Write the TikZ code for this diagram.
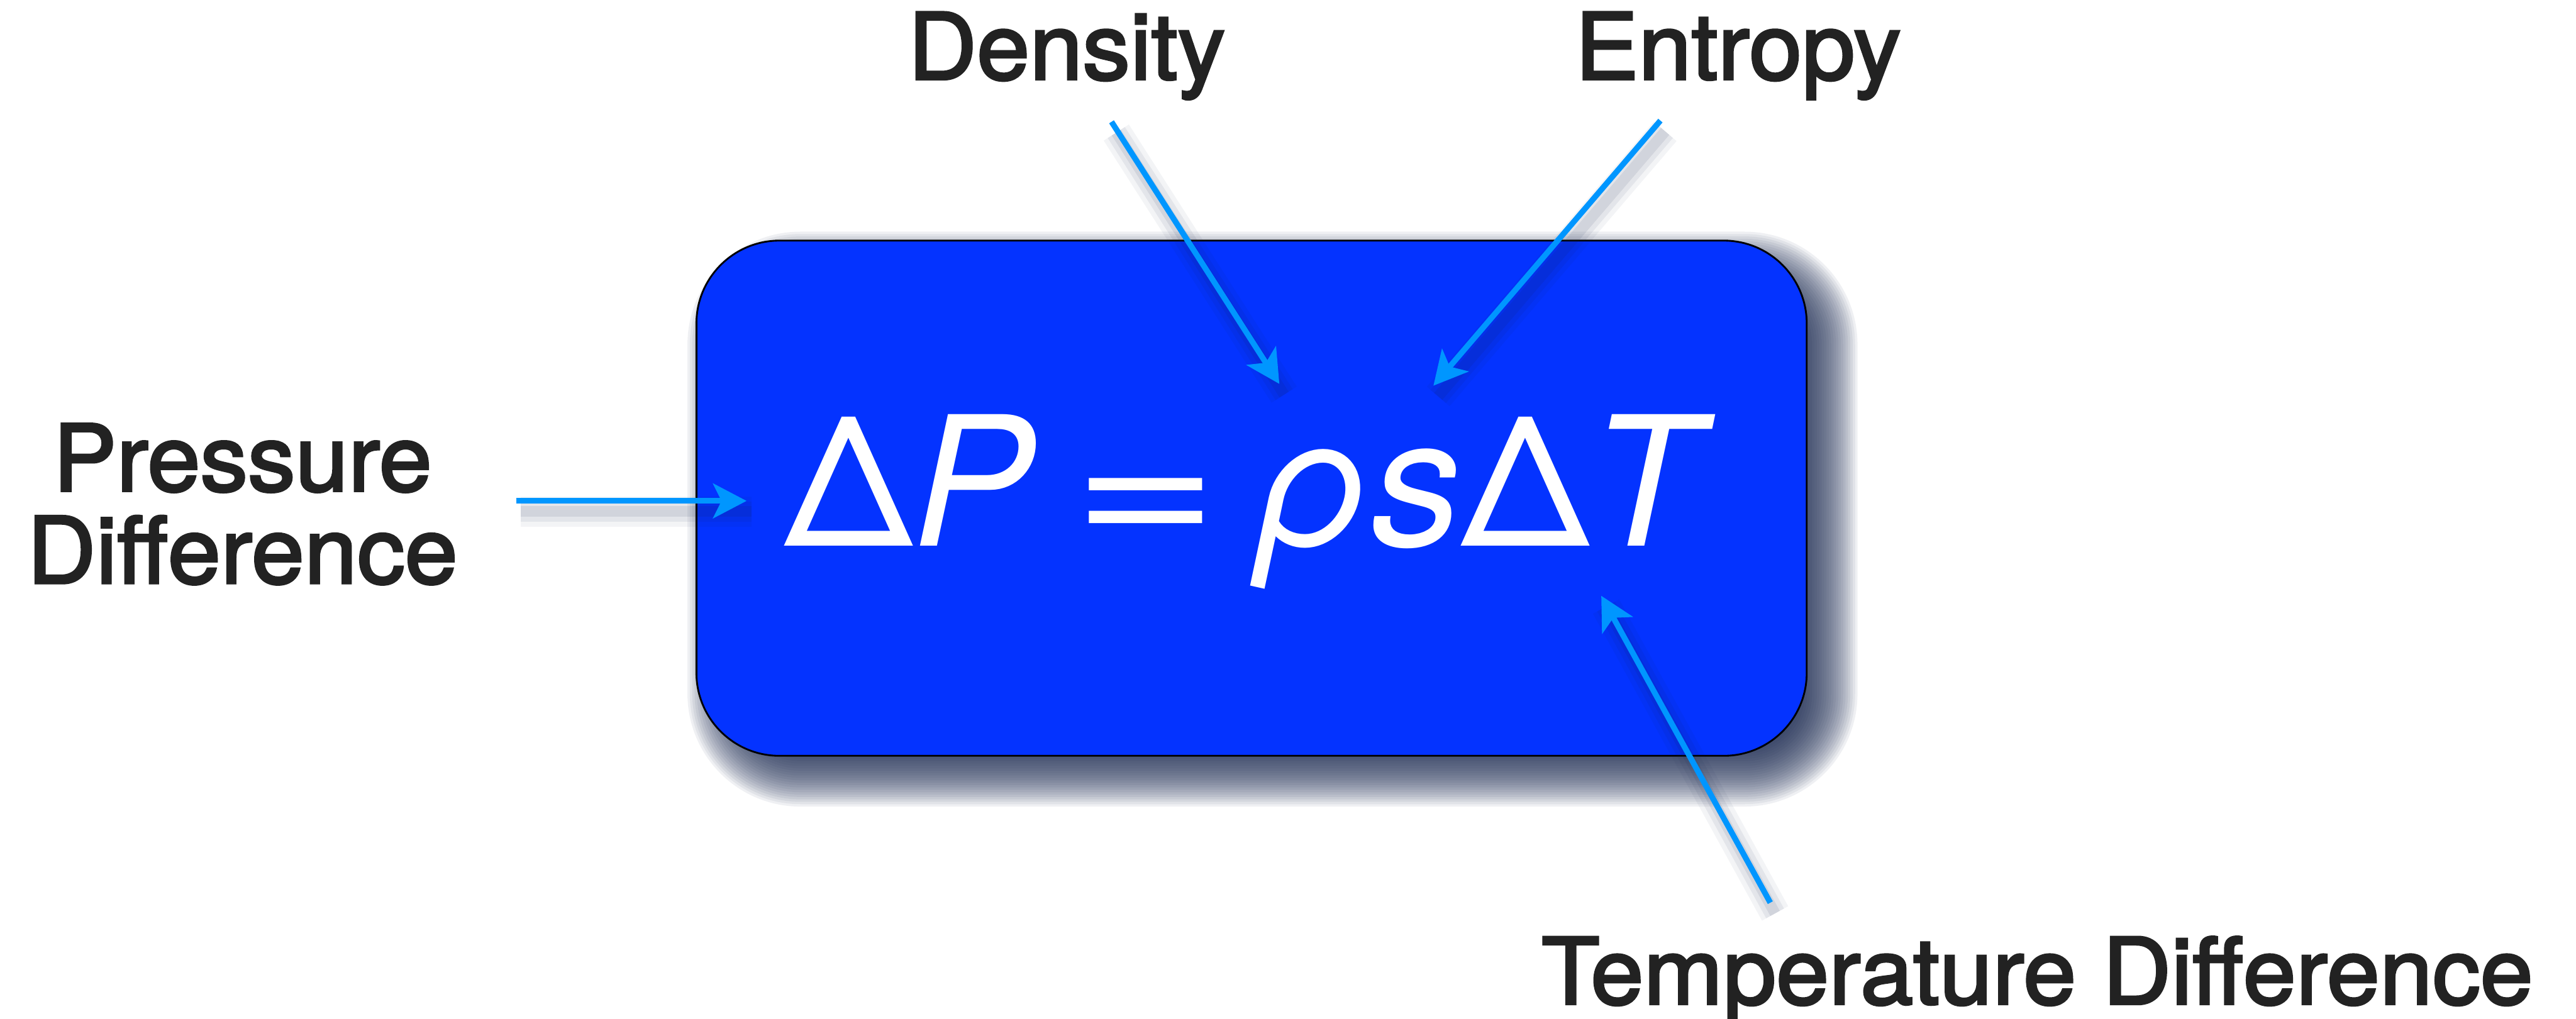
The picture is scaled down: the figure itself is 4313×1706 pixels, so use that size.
\documentclass[tikz,border=0pt]{standalone}
\usepackage{fontspec}
\setmainfont{TeX Gyre Heros}
\newfontfamily\medfont{TeX Gyre Heros}[FakeBold=2.5, FakeStretch=1.03]
\usepackage{xcolor}
\usetikzlibrary{arrows.meta,positioning}
\definecolor{eqblue}{RGB}{4,51,255}
\definecolor{arrowblue}{RGB}{0,150,255}
\definecolor{labelgray}{RGB}{34,34,34}
\definecolor{shadenavy}{RGB}{20,35,75}

\begin{document}
\begin{tikzpicture}[
    x=0.1mm, y=-0.1mm,
    varlabel/.style={text=labelgray, font=\medfont\fontsize{44}{44}\selectfont, inner sep=0pt, align=center},
    eqbox/.style={draw=black, line width=0.3mm, fill=eqblue, rounded corners=13.9mm,
        minimum width=185.9mm, minimum height=86.3mm, inner sep=0pt},
    formula/.style={text=white, font=\fontsize{86}{86}\selectfont, inner sep=0pt},
    pointer/.style={draw=arrowblue, line width=0.95mm,
        -{Stealth[length=5.6mm, width=5.8mm, inset=1.4mm]},
        preaction={draw=shadenavy, draw opacity=0.05, line width=5mm, arrows=-,
            transform canvas={shift={(8,18)}}},
        preaction={draw=shadenavy, draw opacity=0.07, line width=3.4mm, arrows=-,
            transform canvas={shift={(8,18)}}},
        preaction={draw=shadenavy, draw opacity=0.09, line width=1.8mm, arrows=-,
            transform canvas={shift={(8,18)}}}}
]
\useasboundingbox (0,0) rectangle (4313,1706);

\foreach \e in {-50,-46,...,50}
    \fill[shadenavy, opacity=0.065, rounded corners={(139+\e)*0.1mm}]
        ({1201-\e},{438-\e}) rectangle ({3060+\e},{1301+\e});
\node[eqbox] (box) at (2095.5,834.5) {};
\node[formula, anchor=base] (eq) at (2093,914)
    {Δ\textit{P}\hspace{0.2em}\scalebox{1.4}[1]{=}\hspace{0.2em}\textit{ρs}Δ\textit{T}};

\node[varlabel, anchor=base] (density) at (1786,133) {Density};
\node[varlabel, anchor=base] (entropy) at (2910,133) {Entropy};
\node[varlabel, anchor=base] (pressure) at (406,977) {Pressure\\Difference};
\node[varlabel, anchor=base] (tempdiff) at (3411,1682) {Temperature Difference};

\coordinate (densityfrom) at (1861,204);
\coordinate (densityto) at (2142,643);
\coordinate (entropyfrom) at (2780,202);
\coordinate (entropyto) at (2400,646);
\coordinate (pressurefrom) at (864,839);
\coordinate (pressureto) at (1250,839);
\coordinate (tempfrom) at (2964,1512);
\coordinate (tempto) at (2681,998);

\draw[pointer] (densityfrom) -- (densityto);
\draw[pointer] (entropyfrom) -- (entropyto);
\draw[pointer] (pressurefrom) -- (pressureto);
\draw[pointer] (tempfrom) -- (tempto);
\end{tikzpicture}
\end{document}
